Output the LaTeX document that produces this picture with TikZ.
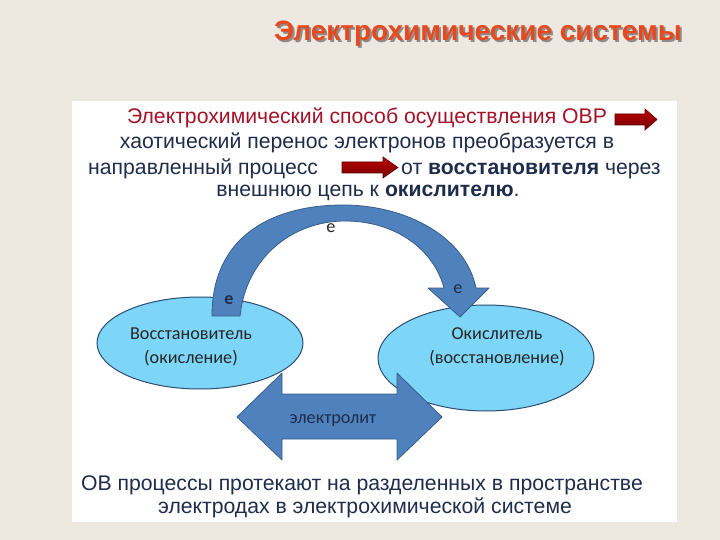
\documentclass[tikz,border=0pt]{standalone}
\usepackage{fontspec}
\setmainfont{Liberation Sans}
\newfontfamily\calib{Carlito}
\usetikzlibrary{shapes.geometric}
\definecolor{pagebg}{RGB}{237,233,225}
\definecolor{navy}{RGB}{31,45,75}
\definecolor{titlered}{RGB}{232,72,30}
\definecolor{darkred}{RGB}{165,18,40}
\definecolor{arrowblue}{RGB}{79,129,189}
\definecolor{arrowline}{RGB}{56,93,138}
\definecolor{cellcyan}{RGB}{125,214,248}
\definecolor{cellline}{RGB}{45,75,115}
\newcommand{\shadowtext}[1]{\makebox[0pt][l]{\hspace{2pt}\raisebox{-2pt}{\textcolor{black!45}{#1}}}#1}
\tikzset{
  txt/.style={text=navy, font=\fontsize{21.2}{24}\selectfont, inner sep=0pt},
  celltxt/.style={text=black!85, font=\calib\fontsize{18.2}{21}\selectfont, inner sep=0pt},
  cell/.style={ellipse, draw=cellline, line width=1pt, fill=cellcyan, inner sep=0pt},
  bluearrow/.style={fill=arrowblue, draw=arrowline, line width=0.8pt, line join=round},
  redarrow/.style={top color=red!75!black, bottom color=red!45!black, draw=red!35!black, line width=0.6pt}
}
\begin{document}
\begin{tikzpicture}[x=1pt,y=-1pt]
  \useasboundingbox (0,0) rectangle (720,540);
  \fill[pagebg] (0,0) rectangle (720,540);
  \fill[white] (72,101) rectangle (677,522);
  % title
  \node[text=titlered, font=\bfseries\fontsize{28}{32}\selectfont, inner sep=0pt] (title) at (478,35) {\shadowtext{Электрохимические системы}};
  % upper text
  \node[txt, text=darkred] (line1) at (367,118) {Электрохимический способ осуществления ОВР};
  \draw[redarrow] (615,114) -- (645,114) -- (645,109) -- (657,119.5) -- (645,130) -- (645,125) -- (615,125) -- cycle;
  \node[txt] (line2) at (367,143) {хаотический перенос электронов преобразуется в};
  \node[txt, anchor=base west] (line3a) at (88,175) {направленный процесс};
  \draw[redarrow] (342,162) -- (383,162) -- (383,157) -- (398,167.5) -- (383,178) -- (383,173) -- (342,173) -- cycle;
  \node[txt, anchor=base west] (line3b) at (401,175) {от \textbf{восстановителя} через};
  \node[txt] (line4) at (368,193) {внешнюю цепь к \textbf{окислителю}.};
  % electrodes
  \node[cell, minimum width=206, minimum height=92] (red) at (200,343) {};
  \node[cell, minimum width=216, minimum height=106] (ox) at (486,358) {};
  \node[celltxt] (redname) at (191,334) {Восстановитель};
  \node[celltxt] (redproc) at (191,358) {(окисление)};
  \node[celltxt] (oxname) at (497,334) {Окислитель};
  \node[celltxt] (oxproc) at (497,358) {(восстановление)};
  % external circuit
  \draw[bluearrow] (212,316) .. controls (212,232) and (278,205) .. (343,205)
    .. controls (408,205) and (466,238) .. (476,288) -- (489,288) -- (460,317) -- (428,288) -- (444,288)
    .. controls (434,250) and (396,221) .. (345,221)
    .. controls (292,221) and (246,258) .. (240,316) -- cycle;
  \node[celltxt] (etop) at (331,228) {e};
  \node[celltxt, text=navy, font=\calib\bfseries\fontsize{18}{21}\selectfont] (eleft) at (229,300) {e};
  \node[celltxt, text=navy] (eright) at (458,289) {e};
  % electrolyte
  \draw[bluearrow] (237,417) -- (282,373) -- (282,394) -- (397,394) -- (397,373) -- (442,417)
    -- (397,460) -- (397,439) -- (282,439) -- (282,460) -- cycle;
  \node[celltxt, text=navy] (electrolyte) at (333,421) {электролит};
  % lower text
  \node[txt] (line5) at (362,485) {ОВ процессы протекают на разделенных в пространстве};
  \node[txt] (line6) at (365,508) {электродах в электрохимической системе};
\end{tikzpicture}
\end{document}
